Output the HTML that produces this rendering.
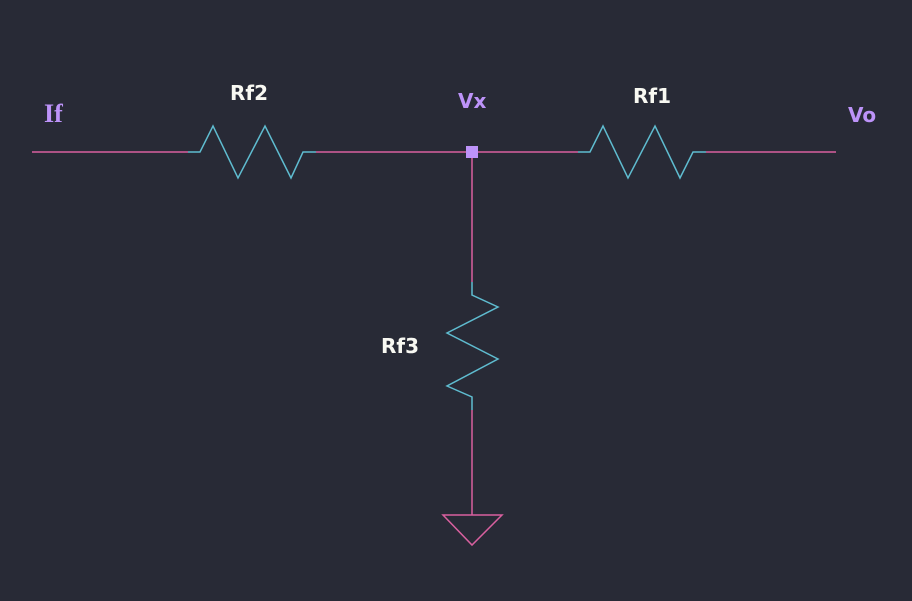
<!DOCTYPE html>
<html><head><meta charset="utf-8"><style>
html,body{margin:0;padding:0;background:#282a36;}
svg{display:block;}
text{font-family:"DejaVu Sans","Liberation Sans",sans-serif;font-weight:bold;font-size:20px;}
</style></head><body>
<svg width="912" height="601" viewBox="0 0 912 601">
<rect width="912" height="601" fill="#282a36"/>
<g stroke="#d9609f" stroke-width="1.5" fill="none">
<line x1="32" y1="152" x2="188" y2="152"/>
<line x1="316" y1="152" x2="578" y2="152"/>
<line x1="706" y1="152" x2="836" y2="152"/>
<line x1="472" y1="152" x2="472" y2="282"/>
<line x1="472" y1="410" x2="472" y2="515"/>
<polygon points="443,515 502,515 472,545"/>
</g>
<g stroke="#5fbcd0" stroke-width="1.5" fill="none">
<polyline points="188,152 200,152 213,126 238,178 265,126 291,178 303,152 316,152"/>
<polyline points="578,152 590,152 603,126 628,178 655,126 680,178 693,152 706,152"/>
<polyline points="472,282 472,295 498,307 447,333 498,359 447,386 472,397 472,410"/>
</g>
<rect x="466" y="146" width="12" height="12" fill="#bd93f9"/>
<text x="44" y="122" fill="#bd93f9" style="font-family:'Liberation Serif',serif;font-size:26px">If</text>
<text x="230" y="100" fill="#f8f8f2">Rf2</text>
<text x="458" y="108" fill="#bd93f9">Vx</text>
<text x="633" y="103" fill="#f8f8f2">Rf1</text>
<text x="848" y="122" fill="#bd93f9">Vo</text>
<text x="381" y="353" fill="#f8f8f2">Rf3</text>
</svg>
</body></html>
